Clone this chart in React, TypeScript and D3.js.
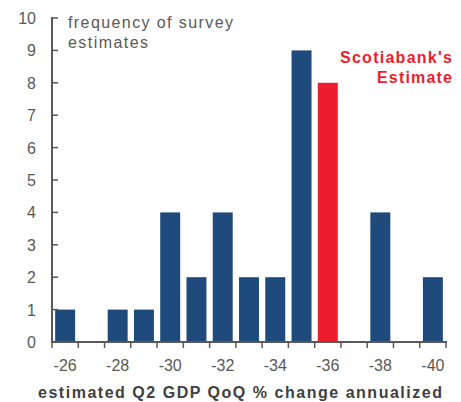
import React from "react";
import * as d3 from "d3";

const categories = ["-26","-27","-28","-29","-30","-31","-32","-33","-34","-35","-36","-37","-38","-39","-40"];
const counts = [1,0,1,1,4,2,4,2,2,9,8,0,4,0,2];
const highlight = ["-36"];
const yTicks = [0,1,2,3,4,5,6,7,8,9,10];
const xLabels = ["-26","-28","-30","-32","-34","-36","-38","-40"];

const W = 461, H = 402;
const left = 52, right = 446, top = 18, bottom = 342;
const grey = "#595959";
const font = "'Liberation Sans', Arial, sans-serif";

export default function App() {
  const x = d3.scaleBand<string>().domain(categories).range([left, right]).paddingInner(0.24).paddingOuter(0.12);
  const xb = d3.scaleBand<string>().domain(categories).range([left, right]);
  const y = d3.scaleLinear().domain([0, 10]).range([bottom, top]);
  const boundaries = categories.map((c) => xb(c) as number).concat([right]);
  return (
    <svg width={W} height={H} style={{ position: "absolute", left: 0, top: 0 }} fontFamily={font}>
      {categories.map((c, i) => (
        <rect key={c} x={x(c)} y={y(counts[i])} width={x.bandwidth()} height={bottom - y(counts[i])}
          fill={highlight.includes(c) ? "#ED1C2E" : "#1F4A7C"} />
      ))}
      <line x1={left} x2={left} y1={top - 1} y2={bottom} stroke={grey} strokeWidth={2} />
      <line x1={left - 1} x2={right + 1} y1={bottom} y2={bottom} stroke={grey} strokeWidth={2} />
      {yTicks.map((t) => (
        <g key={t}>
          <line x1={left} x2={left + 6} y1={y(t)} y2={y(t)} stroke={grey} strokeWidth={1.5} />
          <text x={36} y={y(t) + 6} textAnchor="end" fontSize={16} fill={grey}>{t}</text>
        </g>
      ))}
      {boundaries.map((b, i) => (
        <line key={i} x1={b} x2={b} y1={bottom} y2={bottom + 6} stroke={grey} strokeWidth={1.5} />
      ))}
      {xLabels.map((l) => (
        <text key={l} x={(xb(l) as number) + xb.bandwidth() / 2} y={371} textAnchor="middle" fontSize={16} fill={grey}>{l}</text>
      ))}
      <text x={68} y={28} fontSize={16} fill={grey} textLength={165}>frequency of survey</text>
      <text x={68} y={48} fontSize={16} fill={grey} textLength={80}>estimates</text>
      <text x={452} y={63} textAnchor="end" fontSize={16} fontWeight="bold" fill="#ED1C2E" textLength={112}>Scotiabank's</text>
      <text x={452} y={83} textAnchor="end" fontSize={16} fontWeight="bold" fill="#ED1C2E" textLength={75}>Estimate</text>
      <text x={38} y={398} fontSize={16} fontWeight="bold" fill="#404040" textLength={404}>estimated Q2 GDP QoQ % change annualized</text>
    </svg>
  );
}
